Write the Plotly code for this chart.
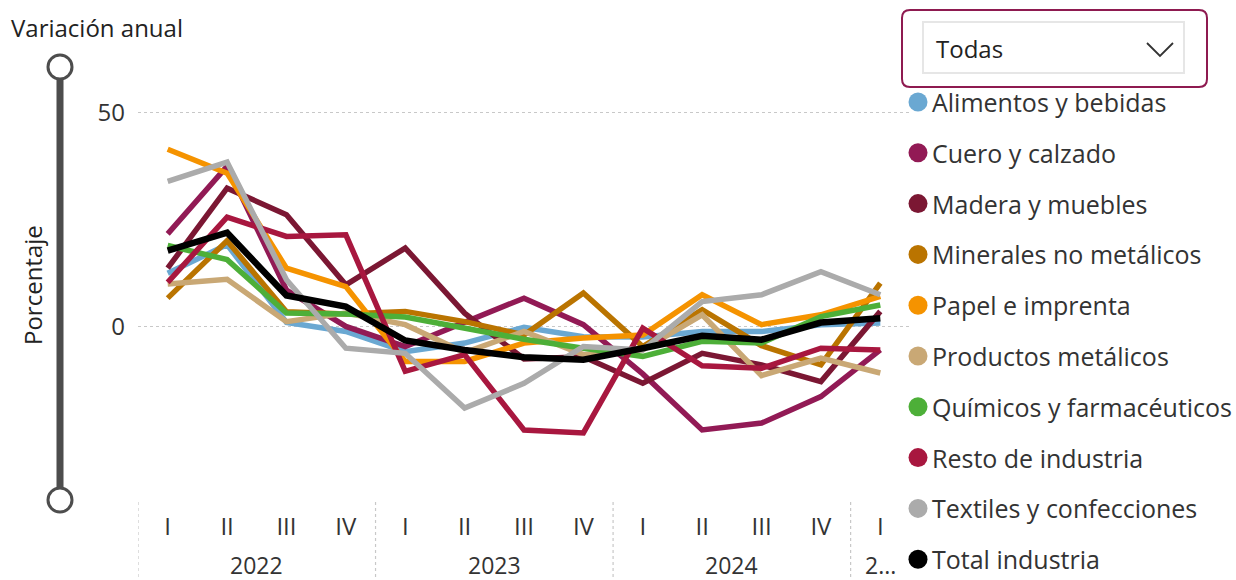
import plotly.graph_objects as go

# ---------------- data ----------------
quarters = ["I", "II", "III", "IV", "I", "II", "III", "IV", "I", "II", "III", "IV", "I"]
years = ["2022"] * 4 + ["2023"] * 4 + ["2024"] * 4 + ["2025"]
year_labels = ["2022", "2023", "2024", "2..."]
y_ticks = [0, 50]

alimentos = [12.5, 19.2, 1.0, -1.1, -5.8, -3.8, -0.1, -2.3, -2.4, -1.1, -1.1, 0.5, 0.9]
cuero = [21.7, 37.5, 8.6, 0.1, -4.6, 1.0, 6.7, 0.5, -11.0, -24.1, -22.5, -16.3, -5.4]
madera = [13.7, 32.4, 26.2, 9.8, 18.4, 3.2, -7.5, -7.0, -13.2, -6.2, -8.9, -12.8, 3.6]
minerales = [6.7, 20.1, 3.5, 3.0, 3.6, 1.2, -1.9, 7.9, -4.6, 4.0, -4.4, -8.9, 10.2]
papel = [41.5, 35.9, 13.7, 9.4, -8.1, -8.1, -3.8, -2.6, -1.9, 7.5, 0.5, 2.8, 7.1]
productos = [10.0, 11.1, 1.2, 3.2, 0.5, -6.0, -1.1, -6.5, -5.4, 2.8, -11.4, -7.3, -10.8]
quimicos = [19.0, 15.7, 3.2, 3.0, 2.3, -0.3, -2.9, -5.0, -6.9, -3.4, -3.8, 2.4, 5.1]
resto = [10.4, 25.6, 21.1, 21.5, -10.4, -6.5, -24.1, -24.8, -0.3, -9.1, -9.7, -5.0, -5.4]
textiles = [34.0, 38.5, 11.0, -5.0, -6.2, -19.0, -13.2, -4.6, -5.4, 5.9, 7.5, 12.9, 7.5]
total = [17.8, 22.0, 7.3, 4.7, -3.2, -5.4, -7.1, -7.7, -5.0, -2.1, -3.0, 1.0, 2.0]

series_names = ["Alimentos y bebidas", "Cuero y calzado", "Madera y muebles",
                "Minerales no metálicos", "Papel e imprenta", "Productos metálicos",
                "Químicos y farmacéuticos", "Resto de industria",
                "Textiles y confecciones", "Total industria"]
series_values = [alimentos, cuero, madera, minerales, papel, productos,
                 quimicos, resto, textiles, total]
series_colors = ["#6AA8D2", "#921A55", "#7B1733", "#BA7400", "#F59300",
                 "#C9A875", "#4DAF38", "#A8173F", "#ABABAB", "#000000"]
dropdown_text = "Todas"

# ---------------- layout geometry (pixels) ----------------
W, H = 1236, 580
ML, MR, MT, MB = 138, 326, 70, 82
PW = W - ML - MR
PH = H - MT - MB


def px(x):
    return (x - ML) / PW


def py(y):
    return (H - MB - y) / PH


FONT = "Open Sans"
FS = 24
TXT = "#333333"

x_cat = [f"{y} {q}" for y, q in zip(years, quarters)]

fig = go.Figure()

for name, vals, col in zip(series_names, series_values, series_colors):
    fig.add_trace(go.Scatter(
        x=x_cat, y=vals, mode="lines", name=name,
        line=dict(color=col, width=6.5 if name == "Total industria" else 5.5),
        showlegend=False, hoverinfo="skip"))

shapes = []
annotations = []

# year separators
for b in [-0.5, 3.5, 7.5, 11.5]:
    shapes.append(dict(type="line", xref="x", yref="paper", x0=b, x1=b,
                       y0=py(502), y1=py(578),
                       line=dict(color="#C8C8C8", width=1.2, dash="dot")))
# slider
shapes.append(dict(type="line", xref="paper", yref="paper", x0=px(60), x1=px(60),
                   y0=py(67), y1=py(500), line=dict(color="#4D4D4D", width=7)))
for cy in [67, 500]:
    shapes.append(dict(type="circle", xref="paper", yref="paper",
                       x0=px(48), x1=px(72), y0=py(cy - 12), y1=py(cy + 12),
                       fillcolor="white", line=dict(color="#4D4D4D", width=3)))


def rounded_rect(x0, y0, x1, y1, r):
    pts = [
        f"M {px(x0 + r)} {py(y0)}",
        f"L {px(x1 - r)} {py(y0)}",
        f"Q {px(x1)} {py(y0)} {px(x1)} {py(y0 + r)}",
        f"L {px(x1)} {py(y1 - r)}",
        f"Q {px(x1)} {py(y1)} {px(x1 - r)} {py(y1)}",
        f"L {px(x0 + r)} {py(y1)}",
        f"Q {px(x0)} {py(y1)} {px(x0)} {py(y1 - r)}",
        f"L {px(x0)} {py(y0 + r)}",
        f"Q {px(x0)} {py(y0)} {px(x0 + r)} {py(y0)}",
        "Z",
    ]
    return " ".join(pts)


# dropdown
shapes.append(dict(type="path", xref="paper", yref="paper",
                   path=rounded_rect(902, 10, 1207, 87, 8),
                   fillcolor="white", line=dict(color="#8E1A50", width=2)))
shapes.append(dict(type="rect", xref="paper", yref="paper",
                   x0=px(923), x1=px(1184), y0=py(22), y1=py(73),
                   fillcolor="white", line=dict(color="#E6E6E6", width=2)))
shapes.append(dict(type="path", xref="paper", yref="paper",
                   path=f"M {px(1147)} {py(43)} L {px(1160)} {py(56)} L {px(1173)} {py(43)}",
                   line=dict(color="#333333", width=1.8)))

# legend (manual)
for i, (name, col) in enumerate(zip(series_names, series_colors)):
    cy = 102 + i * 50.8
    shapes.append(dict(type="circle", xref="paper", yref="paper",
                       x0=px(908.5), x1=px(927.5), y0=py(cy - 9.5), y1=py(cy + 9.5),
                       fillcolor=col, line=dict(width=0)))
    annotations.append(dict(text=name, xref="paper", yref="paper", x=px(930), y=py(cy),
                            xanchor="left", yanchor="middle", showarrow=False,
                            font=dict(family=FONT, size=25, color=TXT)))

annotations += [
    dict(text="Variación anual", xref="paper", yref="paper", x=px(9), y=py(27),
         xanchor="left", yanchor="middle", showarrow=False,
         font=dict(family=FONT, size=FS, color="#222222")),
    dict(text="Porcentaje", xref="paper", yref="paper", x=px(32), y=py(285),
         xanchor="center", yanchor="middle", textangle=-90, showarrow=False,
         font=dict(family=FONT, size=FS, color="#222222")),
    dict(text=dropdown_text, xref="paper", yref="paper", x=px(934), y=py(49),
         xanchor="left", yanchor="middle", showarrow=False,
         font=dict(family=FONT, size=FS, color="#222222")),
]
year_centers = [1.5, 5.5, 9.5, 12]
for lab, cx in zip(year_labels, year_centers):
    annotations.append(dict(text=lab, xref="x", yref="paper", x=cx, y=py(565),
                            xanchor="center", yanchor="middle", showarrow=False,
                            font=dict(family=FONT, size=23, color=TXT)))

fig.update_layout(
    width=W, height=H,
    margin=dict(l=ML, r=MR, t=MT, b=MB, pad=0),
    paper_bgcolor="white", plot_bgcolor="white",
    font=dict(family=FONT, size=FS, color=TXT),
    xaxis=dict(type="category", categoryorder="array", categoryarray=x_cat,
               tickvals=x_cat, ticktext=quarters, showgrid=False, zeroline=False,
               showline=False, ticks="", range=[-0.5, 12.5],
               tickfont=dict(family=FONT, size=FS, color=TXT), ticklabelstandoff=12),
    yaxis=dict(range=[-40, 60], tickvals=y_ticks, showgrid=True, gridcolor="#C8C8C8",
               griddash="dot", gridwidth=1, zeroline=False, showline=False, ticks="",
               tickfont=dict(family=FONT, size=FS, color=TXT), ticklabelstandoff=12),
    showlegend=False,
    shapes=shapes, annotations=annotations,
)

fig.write_html("out.html", config={"displayModeBar": False},
               post_script="document.body.style.margin='0';document.body.style.overflow='hidden';")
